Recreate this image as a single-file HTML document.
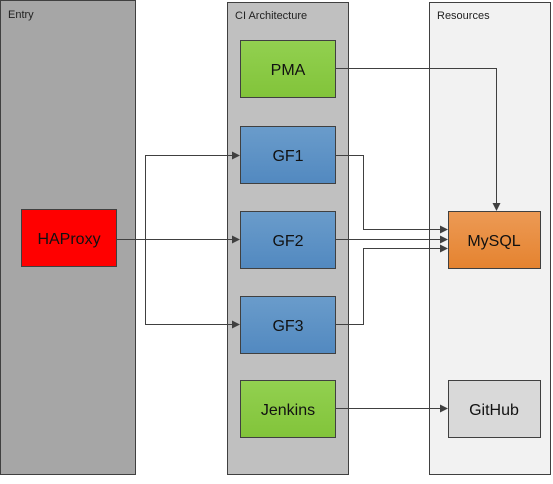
<!DOCTYPE html>
<html><head><style>
body{margin:0;width:553px;height:479px;background:#fff;font-family:"Liberation Sans",sans-serif;overflow:hidden}
</style></head><body>
<svg width="553" height="479" xmlns="http://www.w3.org/2000/svg" font-family="Liberation Sans, sans-serif">
<defs>
<linearGradient id="g" x1="0" y1="0" x2="0" y2="1"><stop offset="0" stop-color="#92d050"/><stop offset="1" stop-color="#82c43a"/></linearGradient>
<linearGradient id="b" x1="0" y1="0" x2="0" y2="1"><stop offset="0" stop-color="#6a9ccb"/><stop offset="1" stop-color="#5289c0"/></linearGradient>
<linearGradient id="o" x1="0" y1="0" x2="0" y2="1"><stop offset="0" stop-color="#ec9a55"/><stop offset="1" stop-color="#e5832f"/></linearGradient>
<marker id="a" markerWidth="8" markerHeight="8" refX="7" refY="4" orient="auto" markerUnits="userSpaceOnUse"><path d="M0,0 L8,4 L0,8 z" fill="#404040"/></marker>
</defs>
<rect x="0.5" y="0.5" width="135" height="474" fill="#a6a6a6" stroke="#404040"/>
<text x="8" y="18" font-size="11" fill="#222">Entry</text>
<rect x="227.5" y="2.5" width="121" height="472" fill="#c0c0c0" stroke="#404040"/>
<text x="235" y="19" font-size="11" fill="#222">CI Architecture</text>
<rect x="429.5" y="2.5" width="121" height="472" fill="#f2f2f2" stroke="#404040"/>
<text x="437" y="19" font-size="11" fill="#222">Resources</text>
<g stroke="#404040" fill="none" stroke-width="1">
<path d="M335,68.5 H496.5 V210" marker-end="url(#a)"/>
<path d="M335,155.5 H363.5 V229.5 H447" marker-end="url(#a)"/>
<path d="M335,239.5 H447" marker-end="url(#a)"/>
<path d="M335,324.5 H363.5 V248.5 H447" marker-end="url(#a)"/>
<path d="M116,239.5 H239" marker-end="url(#a)"/>
<path d="M145.5,239.5 V155.5 H239" marker-end="url(#a)"/>
<path d="M145.5,239.5 V324.5 H239" marker-end="url(#a)"/>
<path d="M335,408.5 H447" marker-end="url(#a)"/>
</g>
<g stroke="#404040" font-size="16" text-anchor="middle" fill="#111">
<rect x="240.5" y="40.5" width="95" height="57" fill="url(#g)"/>
<rect x="240.5" y="126.5" width="95" height="57" fill="url(#b)"/>
<rect x="240.5" y="211.5" width="95" height="57" fill="url(#b)"/>
<rect x="240.5" y="296.5" width="95" height="57" fill="url(#b)"/>
<rect x="240.5" y="380.5" width="95" height="57" fill="url(#g)"/>
<rect x="21.5" y="209.5" width="95" height="57" fill="#ff0000"/>
<rect x="448.5" y="211.5" width="92" height="57" fill="url(#o)"/>
<rect x="448.5" y="380.5" width="92" height="57" fill="#d9d9d9"/>
</g>
<g font-size="16" text-anchor="middle" fill="#111">
<text x="288" y="75">PMA</text>
<text x="288" y="161">GF1</text>
<text x="288" y="246">GF2</text>
<text x="288" y="331">GF3</text>
<text x="288" y="415">Jenkins</text>
<text x="69" y="244">HAProxy</text>
<text x="494" y="246">MySQL</text>
<text x="494" y="415">GitHub</text>
</g>
</svg>
</body></html>
